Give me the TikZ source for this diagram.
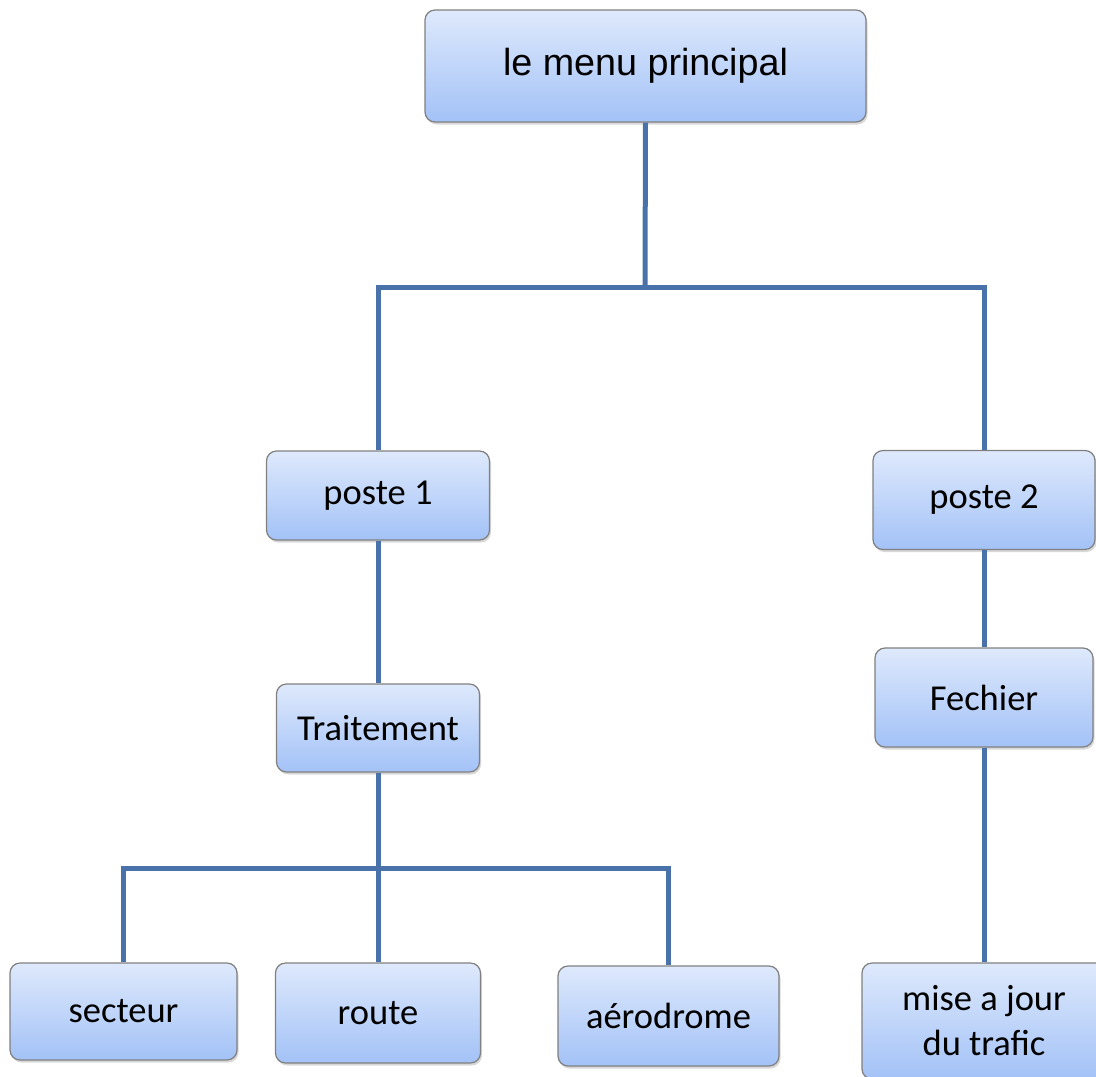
\documentclass[tikz,border=0pt]{standalone}
\usepackage{fontspec}
\setmainfont{Carlito}
\newfontfamily\arialfont{Liberation Sans}
\usetikzlibrary{shadows}
\definecolor{topcolor}{RGB}{222,233,252}
\definecolor{bottomcolor}{RGB}{163,194,247}
\definecolor{bordercolor}{RGB}{128,128,128}
\definecolor{linkcolor}{RGB}{74,114,170}

\tikzset{
  menubox/.style={draw=bordercolor, line width=1.2pt, rounded corners=10pt,
    top color=topcolor, bottom color=bottomcolor,
    drop shadow={opacity=0.3, shadow xshift=1.5pt, shadow yshift=-2.5pt},
    inner sep=0pt, align=center, font=\fontsize{36.5}{45}\selectfont},
  link/.style={draw=linkcolor, line width=5pt}
}

\begin{document}
\begin{tikzpicture}[x=1pt, y=-1pt]
    \clip (0,0) rectangle (1096,1077);
    \fill[white] (0,0) rectangle (1096,1077);

    % Top level
    \node[menubox, minimum width=441pt, minimum height=112pt,
      font=\arialfont\fontsize{37.7}{45}\selectfont] (menu) at (645.5,66) {le menu principal};

    % Second level
    \node[menubox, minimum width=223pt, minimum height=89pt] (poste1) at (378,495.5) {poste 1};
    \node[menubox, minimum width=222pt, minimum height=99pt] (poste2) at (984,500) {poste 2};

    % Third level
    \node[menubox, minimum width=203pt, minimum height=88pt] (trait) at (378,728) {Traitement};
    \node[menubox, minimum width=218pt, minimum height=99pt] (fech) at (984,697.5) {Fechier};

    % Leaves
    \node[menubox, minimum width=227pt, minimum height=97pt] (secteur) at (123.5,1011.5) {secteur};
    \node[menubox, minimum width=205pt, minimum height=100pt] (route) at (378,1013) {route};
    \node[menubox, minimum width=221pt, minimum height=100pt] (aero) at (668.5,1016) {aérodrome};
    \node[menubox, minimum width=244pt, minimum height=116pt] (maj) at (984,1021) {mise a jour\\du trafic};

    % Junctions
    \coordinate (top) at (645,287);
    \coordinate (mid) at (378,868);

    % Connectors
    \draw[link] (menu.south) -- (top);
    \draw[link] (poste1.north) |- (top) -| (poste2.north);
    \draw[link] (poste1.south) -- (trait.north);
    \draw[link] (poste2.south) -- (fech.north);
    \draw[link] (fech.south) -- (maj.north);
    \draw[link] (trait.south) -- (route.north);
    \draw[link] (secteur.north) |- (mid) -| (aero.north);

\end{tikzpicture}
\end{document}
